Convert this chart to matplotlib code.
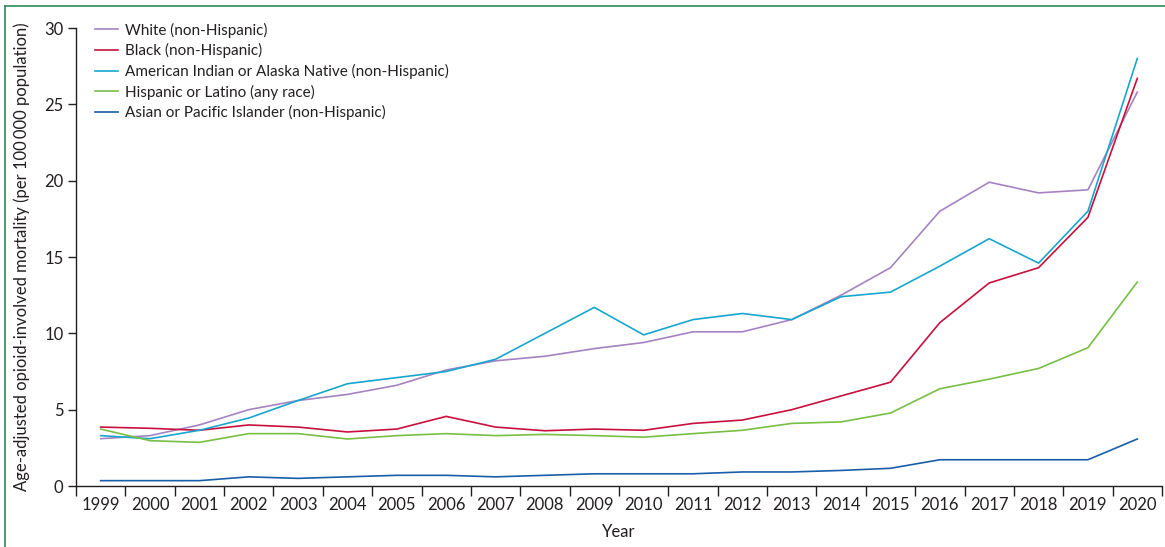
import matplotlib
matplotlib.use("Agg")
import matplotlib.pyplot as plt
from matplotlib.lines import Line2D

years = list(range(1999, 2021))

white = [3.1, 3.3, 4.0, 5.0, 5.6, 6.0, 6.6, 7.6, 8.2, 8.5, 9.0, 9.4, 10.1, 10.1, 10.9, 12.5, 14.3, 18.0, 19.9, 19.2, 19.4, 25.8]
black = [3.86, 3.78, 3.65, 4.0, 3.86, 3.54, 3.73, 4.56, 3.86, 3.62, 3.73, 3.65, 4.1, 4.32, 5.0, 5.9, 6.8, 10.7, 13.3, 14.3, 17.6, 26.7]
aian = [3.3, 3.1, 3.65, 4.45, 5.6, 6.7, 7.1, 7.5, 8.3, 10.0, 11.7, 9.9, 10.9, 11.3, 10.9, 12.4, 12.7, 14.4, 16.2, 14.6, 18.0, 28.0]
hispanic = [3.73, 2.97, 2.86, 3.43, 3.43, 3.08, 3.3, 3.43, 3.3, 3.38, 3.3, 3.2, 3.43, 3.65, 4.1, 4.2, 4.78, 6.37, 7.0, 7.7, 9.06, 13.36]
asian = [0.35, 0.35, 0.35, 0.6, 0.5, 0.6, 0.7, 0.7, 0.6, 0.7, 0.8, 0.8, 0.8, 0.92, 0.92, 1.02, 1.16, 1.72, 1.72, 1.72, 1.72, 3.08]

series = [
    ("White (non-Hispanic)", white, "#a583c2"),
    ("Black (non-Hispanic)", black, "#c8103e"),
    ("American Indian or Alaska Native (non-Hispanic)", aian, "#18a6cf"),
    ("Hispanic or Latino (any race)", hispanic, "#77bf45"),
    ("Asian or Pacific Islander (non-Hispanic)", asian, "#1a5ea8"),
]

plt.rcParams['font.family'] = ['Lato', 'DejaVu Sans']
fig = plt.figure(figsize=(11.65, 5.47), dpi=100)
ax = fig.add_axes([0.0652, 0.1115, 0.9322, 0.8373])

x = list(range(len(years)))
for label, vals, color in series:
    ax.plot(x, vals, color=color, lw=1.2, label=label)

ax.set_xlim(-0.5, len(years) - 0.5)
ax.set_ylim(0, 30)
ax.set_yticks([0, 5, 10, 15, 20, 25, 30])
ax.set_xticks([i - 0.5 for i in range(len(years) + 1)])
ax.set_xticklabels([])
ax.set_xticks(x, minor=True)
ax.set_xticklabels([str(y) for y in years], minor=True)
ax.tick_params(axis='x', which='minor', length=0, pad=8, labelsize=12, colors='#231f20')
ax.tick_params(axis='x', which='major', length=7, width=1.0, direction='out', color='#231f20')
ax.tick_params(axis='y', length=6, width=1.0, direction='out', labelsize=12, colors='#231f20', pad=3)
for s in ['top', 'right']:
    ax.spines[s].set_visible(False)
for s in ['left', 'bottom']:
    ax.spines[s].set_color('#231f20')
    ax.spines[s].set_linewidth(1.0)
ax.spines['left'].set_bounds(0, 30)

ax.set_xlabel("Year", fontsize=12, color='#231f20', labelpad=8)
ax.set_ylabel("Age-adjusted opioid-involved mortality (per 100\u2009000 population)", fontsize=12, color='#231f20', labelpad=10)

leg = ax.legend(loc='upper left', bbox_to_anchor=(0.0175, 1.012), frameon=False, fontsize=11,
                handlelength=1.5, handletextpad=0.45, labelspacing=0.37,
                borderpad=0, borderaxespad=0)
for t in leg.get_texts():
    t.set_color('#231f20')

fig.add_artist(Line2D([0.0047, 0.0047], [0, 0.989], transform=fig.transFigure, color='#2e8b57', lw=1.2))
fig.add_artist(Line2D([0.0047, 1.0], [0.989, 0.989], transform=fig.transFigure, color='#2e8b57', lw=1.2))

fig.savefig("out.png", dpi=100)
